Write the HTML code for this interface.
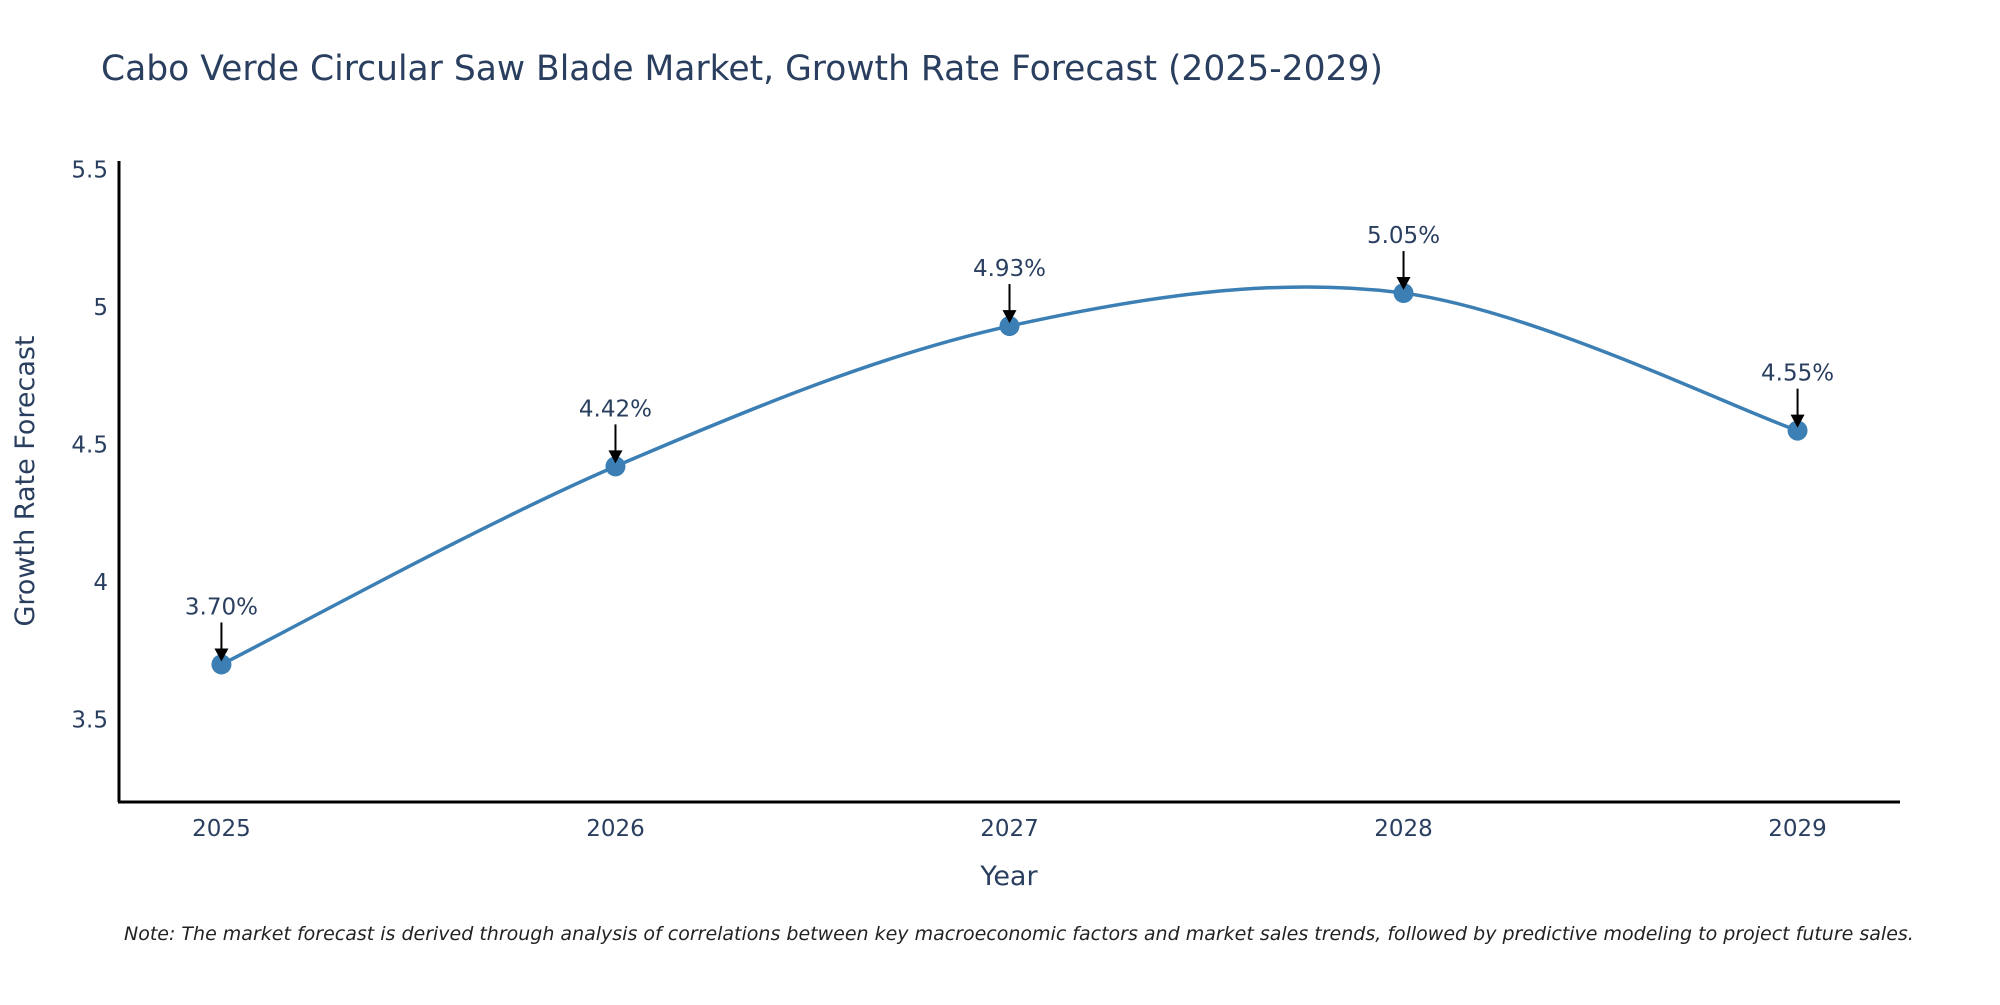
<!DOCTYPE html>
<html><head><meta charset="utf-8"><style>
body{margin:0;background:#fff;}
svg text{font-family:"DejaVu Sans","Liberation Sans",sans-serif;}
</style></head><body>
<svg id="chart" width="2000" height="1000" xmlns="http://www.w3.org/2000/svg">
<rect width="2000" height="1000" fill="#fff"/>
<text x="101" y="80" font-size="34.5" fill="#2a3f5f">Cabo Verde Circular Saw Blade Market, Growth Rate Forecast (2025-2029)</text>
<line x1="119" y1="161" x2="119" y2="802" stroke="#000" stroke-width="3"/>
<line x1="118" y1="802" x2="1900" y2="802" stroke="#000" stroke-width="3"/>
<text transform="translate(34,481) rotate(-90)" text-anchor="middle" font-size="27" fill="#2a3f5f">Growth Rate Forecast</text>
<text x="1009" y="885" text-anchor="middle" font-size="27" fill="#2a3f5f">Year</text>
<text x="124" y="940" font-size="19" font-style="italic" fill="#222">Note: The market forecast is derived through analysis of correlations between key macroeconomic factors and market sales trends, followed by predictive modeling to project future sales.</text>
<g id="ticks"></g>
<g id="series"></g>
</svg>
<script>
const years = [2025, 2026, 2027, 2028, 2029];
const growth = [3.70, 4.42, 4.93, 5.05, 4.55];
const labels = ["3.70%", "4.42%", "4.93%", "5.05%", "4.55%"];
const yTicks = [3.5, 4, 4.5, 5, 5.5];
const yTickLabels = ["3.5", "4", "4.5", "5", "5.5"];

const NS = "http://www.w3.org/2000/svg";
const X0 = 2024.74, X1 = 2029.26, PL = 119, PR = 1900;
const Y0 = 3.2, Y1 = 5.53, PB = 802, PT = 161;
function xs(v){return PL + (v - X0) / (X1 - X0) * (PR - PL);}
function ys(v){return PB - (v - Y0) / (Y1 - Y0) * (PB - PT);}
function mk(tag, attrs, parent){const e=document.createElementNS(NS,tag);for(const k in attrs)e.setAttribute(k,attrs[k]);parent.appendChild(e);return e;}

const ticks = document.getElementById('ticks');
yTicks.forEach((t,i)=>{
  const e = mk('text',{x:108,y:ys(t)+8,'text-anchor':'end','font-size':23,fill:'#2a3f5f'},ticks);
  
  
  e.textContent = yTickLabels[i];
});
years.forEach(y=>{
  const e = mk('text',{x:xs(y),y:836,'text-anchor':'middle','font-size':23,fill:'#2a3f5f'},ticks);
  
  
  e.textContent = String(y);
});

const series = document.getElementById('series');
const pts = years.map((y,i)=>[xs(y), ys(growth[i])]);
let d = 'M'+pts[0][0]+','+pts[0][1];
const s = 0.33;
for(let i=0;i<pts.length-1;i++){
  const p0 = pts[Math.max(i-1,0)], p1=pts[i], p2=pts[i+1], p3=pts[Math.min(i+2,pts.length-1)];
  const c1 = [p1[0]+(p2[0]-p0[0])*s/2, p1[1]+(p2[1]-p0[1])*s/2];
  const c2 = [p2[0]-(p3[0]-p1[0])*s/2, p2[1]-(p3[1]-p1[1])*s/2];
  d += ' C'+c1[0]+','+c1[1]+' '+c2[0]+','+c2[1]+' '+p2[0]+','+p2[1];
}
const line = mk('path',{d:d,fill:'none',stroke:'#3b7fb4','stroke-width':3.5},series);



pts.forEach((p,i)=>{
  const c = mk('circle',{cx:p[0],cy:p[1],r:10,fill:'#3b7fb4'},series);
  
  
  const a = mk('line',{x1:p[0],y1:p[1]-42,x2:p[0],y2:p[1]-14,stroke:'#000','stroke-width':2},series);
  
  
  const h = mk('polygon',{points:(p[0]-7)+','+(p[1]-16)+' '+(p[0]+7)+','+(p[1]-16)+' '+p[0]+','+(p[1]-3),fill:'#000'},series);
  
  
  const t = mk('text',{x:p[0],y:p[1]-50,'text-anchor':'middle','font-size':23,fill:'#2a3f5f'},series);
  
  
  t.textContent = labels[i];
});
</script>
</body></html>
